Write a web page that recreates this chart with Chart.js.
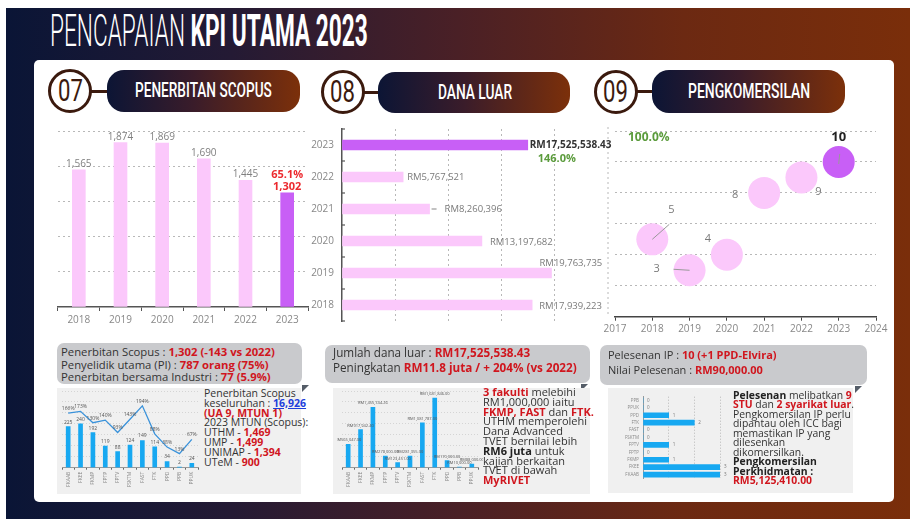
<!DOCTYPE html>
<html>
<head>
<meta charset="utf-8">
<script src="https://cdn.jsdelivr.net/npm/chart.js@4.4.1/dist/chart.umd.min.js"></script>
<style>
  html, body { margin: 0; padding: 0; }
  body { width: 910px; height: 519px; background: #fff; position: relative; overflow: hidden; font-family: "Open Sans", sans-serif; color: #333; }
  .abs { position: absolute; }
  .banner { left: 6px; top: 8px; width: 904px; height: 511px; background: linear-gradient(90deg, #0a1536 0%, #241a34 25%, #4a2026 50%, #6c2912 75%, #7a2e0a 100%); }
  .title { left: 50px; top: 9px; color: #fff; font-family: Roboto, sans-serif; font-size: 44px; line-height: 44px; white-space: nowrap; transform-origin: 0 0; }
  .title .light { font-weight: 300; }
  .title .bold { font-weight: 700; }
  .panel { left: 34px; top: 60px; width: 860px; height: 442px; background: #fff; border-radius: 5px; }
  .circle { border: 3.5px solid #3b1a0e; border-radius: 50%; background: #fff; box-sizing: border-box; width: 44px; height: 44px; }
  .num { font-family: Roboto, sans-serif; font-size: 31px; color: #3b1a0e; white-space: nowrap; transform-origin: 0 0; line-height: 44px; }
  .link { height: 3px; background: #3b1a0e; }
  .pill { border-radius: 17px; background: linear-gradient(90deg, #0c1535 0%, #3a1c2a 45%, #7c300a 100%); }
  .pilltext { font-family: Roboto, sans-serif; font-weight: 500; font-size: 21px; color: #fff; white-space: nowrap; transform-origin: 0 0; }
  .callout { background: #c9cacd; border-radius: 7px; }
  .fold { width: 0; height: 0; border-top: 7px solid #555d68; border-right: 7px solid transparent; }
  .light-box { background: #f0f0f0; }
  .txt { white-space: nowrap; }
  .red { color: #d0161e; font-weight: 700; }
  .b { font-weight: 700; color: #222; }
  .blue { color: #1d3fdc; font-weight: 700; text-decoration: underline; }
  .green { color: #5b9b3c; font-weight: 700; }
  canvas { position: absolute; }
</style>
</head>
<body>
<div class="abs banner"></div>
<div class="abs title" id="title"><span class="light">PENCAPAIAN </span><span class="bold">KPI UTAMA 2023</span></div>
<div class="abs panel"></div>

<!-- section headers -->
<div class="abs link" style="left:90px;top:89.5px;width:20px;"></div>
<div class="abs circle" style="left:48px;top:69px;"></div>
<div class="abs num" data-cx="70" data-w="25" style="top:69px;">07</div>
<div class="abs pill" style="left:107px;top:70px;width:193px;height:42px;"></div>
<div class="abs pilltext" data-cx="203.5" data-w="137" style="top:78px;">PENERBITAN SCOPUS</div>

<div class="abs link" style="left:362px;top:90.5px;width:20px;"></div>
<div class="abs circle" style="left:320.5px;top:70px;"></div>
<div class="abs num" data-cx="342.5" data-w="25" style="top:70px;">08</div>
<div class="abs pill" style="left:378px;top:72px;width:192px;height:41px;"></div>
<div class="abs pilltext" data-cx="475" data-w="74" style="top:79.5px;">DANA LUAR</div>

<div class="abs link" style="left:635px;top:90px;width:20px;"></div>
<div class="abs circle" style="left:593.5px;top:69.5px;"></div>
<div class="abs num" data-cx="615.5" data-w="25" style="top:69.5px;">09</div>
<div class="abs pill" style="left:652px;top:70px;width:193px;height:43px;"></div>
<div class="abs pilltext" data-cx="749" data-w="122" style="top:78.5px;">PENGKOMERSILAN</div>

<!-- main charts -->
<canvas id="scopusChart" width="280" height="225" style="left:40px;top:110px;"></canvas>
<canvas id="ipChart" width="302" height="225" style="left:590px;top:115px;"></canvas>
<canvas id="danaChart" width="320" height="220" style="left:300px;top:115px;"></canvas>
<div class="abs txt green" style="left:628px;top:129px;font-size:12px;line-height:16px;">100.0%</div>

<!-- bottom section 1 -->
<div class="abs callout" style="left:57px;top:343px;width:245px;height:41px;"></div>
<div class="abs fold" style="left:302px;top:385px;"></div>
<div class="abs light-box" style="left:57px;top:388px;width:244px;height:106px;"></div>
<div class="abs txt" style="left:61px;top:346px;font-size:11.3px;line-height:12.5px;">
  Penerbitan Scopus : <span class="red">1,302 (-143 vs 2022)</span><br>
  Penyelidik utama (PI) : <span class="red">787 orang (75%)</span><br>
  Penerbitan bersama Industri : <span class="red">77 (5.9%)</span>
</div>
<canvas id="facScopusChart" width="146" height="108" style="left:58px;top:388px;"></canvas>
<div class="abs txt" style="left:204px;top:389px;font-size:10.5px;line-height:9.8px;">
  Penerbitan Scopus<br>
  keseluruhan : <span class="blue">16,926</span><br>
  <span class="red">(UA 9, MTUN 1)</span><br>
  2023 MTUN (Scopus):<br>
  UTHM - <span class="red">1,469</span><br>
  UMP - <span class="red">1,499</span><br>
  UNIMAP - <span class="red">1,394</span><br>
  UTeM - <span class="red">900</span>
</div>

<!-- bottom section 2 -->
<div class="abs callout" style="left:325px;top:345px;width:265px;height:38px;"></div>
<div class="abs fold" style="left:581px;top:384px;"></div>
<div class="abs light-box" style="left:333px;top:388px;width:257px;height:106px;"></div>
<div class="abs txt" style="left:333px;top:345px;font-size:11.7px;line-height:15px;">
  Jumlah dana luar : <span class="red">RM17,525,538.43</span><br>
  Peningkatan <span class="red">RM11.8 juta / + 204% (vs 2022)</span>
</div>
<canvas id="facDanaChart" width="146" height="108" style="left:337px;top:388px;"></canvas>
<div class="abs txt" style="left:483px;top:387px;font-size:11px;line-height:9.8px;">
  <span class="red">3 fakulti</span> melebihi<br>
  RM1,000,000 iaitu<br>
  <span class="red">FKMP, FAST</span> dan <span class="red">FTK.</span><br>
  UTHM memperolehi<br>
  Dana Advanced<br>
  TVET bernilai lebih<br>
  <span class="b">RM6 juta</span> untuk<br>
  kajian berkaitan<br>
  TVET di bawah<br>
  <span class="red">MyRIVET</span>
</div>

<!-- bottom section 3 -->
<div class="abs callout" style="left:600px;top:345px;width:267px;height:40px;"></div>
<div class="abs fold" style="left:855px;top:386px;"></div>
<div class="abs light-box" style="left:608px;top:388px;width:245px;height:105px;"></div>
<div class="abs txt" style="left:608px;top:347px;font-size:11px;line-height:15px;">
  Pelesenan IP : <span class="red">10 (+1 PPD-Elvira)</span><br>
  Nilai Pelesenan : <span class="red">RM90,000.00</span>
</div>
<canvas id="facIpChart" width="125" height="95" style="left:608px;top:390px;"></canvas>
<div class="abs txt" style="left:733px;top:390.5px;font-size:10.4px;line-height:9.5px;">
  <span class="b">Pelesenan</span> melibatkan <span class="red">9</span><br>
  <span class="red">STU</span> dan <span class="red">2 syarikat luar</span>.<br>
  Pengkomersilan IP perlu<br>
  dipantau oleh ICC bagi<br>
  memastikan IP yang<br>
  dilesenkan<br>
  dikomersilkan.<br>
  <span class="b">Pengkomersilan</span><br>
  <span class="b">Perkhidmatan :</span><br>
  <span class="red">RM5,125,410.00</span>
</div>

<script>
// ---- data ----
const scopusYears = ['2018', '2019', '2020', '2021', '2022', '2023'];
const scopusValues = [1565, 1874, 1869, 1690, 1445, 1302];
const scopusTargetPct = '65.1%';

const danaYears = ['2023', '2022', '2021', '2020', '2019', '2018'];
const danaValues = [17525538.43, 5767521, 8260396, 13197682, 19763735, 17939223];
const danaTargetPct = '146.0%';

const ipYears = [2018, 2019, 2020, 2021, 2022, 2023];
const ipValues = [5, 3, 4, 8, 9, 10];
const ipTicks = [2017, 2018, 2019, 2020, 2021, 2022, 2023, 2024];

const faculties = ['FKAAB', 'FKEE', 'FKMP', 'FPTP', 'FPTV', 'FSKTM', 'FAST', 'FTK', 'PPD', 'PPB', 'PPUK'];
const scopusByFaculty = [225, 240, 192, 119, 88, 124, 149, 114, 34, 2, 24];
const scopusPctByFaculty = [166, 173, 130, 140, 93, 143, 194, 88, 38, 13, 67];
const danaByFaculty = [565047, 917942.4, 1455744.26, 278000, 123451, 281355, 1081787, 1681846, 170000, 10000, 88000];

const ipFaculties = ['PPB', 'PPUK', 'PPD', 'FTK', 'FAST', 'FSKTM', 'FPTV', 'FPTP', 'FKMP', 'FKEE', 'FKAAB'];
const ipByFaculty = [0, 0, 1, 2, 0, 0, 1, 0, 1, 3, 3];

const PINK = '#fbc8fb';
const PURPLE = '#c85ff6';
const BLUE = '#17a8f1';
const FONT = '"Open Sans", sans-serif';

// ---- squeeze condensed headings to their widths ----
const title = document.getElementById('title');
title.style.transform = `scaleX(${318 / title.scrollWidth})`;
document.querySelectorAll('[data-cx]').forEach(el => {
    const w = +el.dataset.w;
    const natural = el.scrollWidth;
    el.style.left = (+el.dataset.cx - w / 2) + 'px';
    el.style.transform = `scaleX(${w / natural})`;
});

const base = {
    responsive: false,
    animation: false,
    plugins: { legend: { display: false }, tooltip: { enabled: false } }
};
const hideZero = ctx => ctx.tick.value === 0 ? 'transparent' : '#b8b8b8';

// 07 Penerbitan Scopus
new Chart(document.getElementById('scopusChart'), {
    type: 'bar',
    data: {
        labels: scopusYears,
        datasets: [{
            data: scopusValues,
            backgroundColor: scopusValues.map((v, i) => i === scopusValues.length - 1 ? PURPLE : PINK),
            barThickness: 13
        }]
    },
    options: {
        ...base,
        layout: { padding: { left: 18, right: 12, top: 21.6, bottom: 0 } },
        scales: {
            x: {
                grid: { drawOnChartArea: false, offset: true, tickLength: 4, color: '#555' },
                border: { color: '#555', width: 1.5 },
                ticks: { color: '#888', font: { size: 10, family: FONT }, padding: 3 },
                afterFit: s => { s.height = 28; }
            },
            y: {
                min: 0, max: 2000,
                ticks: { display: false, stepSize: 400 },
                grid: { color: hideZero, drawTicks: false },
                border: { display: false, dash: [2, 3] },
                afterFit: s => { s.width = 0; }
            }
        }
    },
    plugins: [{
        id: 'scopusLabels',
        afterDatasetsDraw(chart) {
            const { ctx } = chart;
            ctx.save();
            ctx.textAlign = 'center';
            ctx.textBaseline = 'alphabetic';
            chart.getDatasetMeta(0).data.forEach((bar, i) => {
                const last = i === scopusValues.length - 1;
                ctx.font = (last ? 'bold 11px ' : '10px ') + FONT;
                ctx.fillStyle = last ? '#ec2a2f' : '#808080';
                ctx.fillText(scopusValues[i].toLocaleString('en-US'), bar.x, bar.y - 3);
                if (last) ctx.fillText(scopusTargetPct, bar.x, bar.y - 15);
            });
            ctx.restore();
        }
    }]
});

// 08 Dana Luar
new Chart(document.getElementById('danaChart'), {
    type: 'bar',
    data: {
        labels: danaYears,
        datasets: [{
            data: danaValues,
            backgroundColor: danaValues.map((v, i) => i === 0 ? PURPLE : PINK),
            barThickness: 10
        }]
    },
    options: {
        ...base,
        indexAxis: 'y',
        layout: { padding: { left: 0, right: 66, top: 9, bottom: 10 } },
        scales: {
            x: {
                min: 0, max: 20000000,
                ticks: { display: false, stepSize: 5000000 },
                grid: { color: hideZero, drawTicks: false },
                border: { display: false, dash: [2, 3] },
                afterFit: s => { s.height = 0; }
            },
            y: {
                ticks: { color: '#888', font: { size: 10, family: FONT }, padding: 8 },
                grid: { display: false, drawTicks: false },
                border: { color: '#555', width: 1.5 },
                afterFit: s => { s.width = 42; }
            }
        }
    },
    plugins: [{
        id: 'danaLabels',
        afterDatasetsDraw(chart) {
            const { ctx, chartArea } = chart;
            const bars = chart.getDatasetMeta(0).data;
            // bracket ticks on the year axis
            ctx.save();
            ctx.strokeStyle = '#555';
            ctx.lineWidth = 1.2;
            const edges = [chartArea.top];
            for (let i = 1; i < bars.length; i++) edges.push((bars[i - 1].y + bars[i].y) / 2);
            edges.push(chartArea.bottom);
            edges.forEach(y => {
                ctx.beginPath();
                ctx.moveTo(chartArea.left, y);
                ctx.lineTo(chartArea.left + 3, y);
                ctx.stroke();
            });
            // value labels
            const offsets = [[2, 0], [4, 0], [15, 0], [8, 1], [-12, -10], [7, 1]];
            ctx.textBaseline = 'middle';
            ctx.textAlign = 'left';
            bars.forEach((bar, i) => {
                const [dx, dy] = offsets[i];
                const v = danaValues[i];
                if (i === 0) {
                    ctx.font = 'bold 10px ' + FONT;
                    ctx.fillStyle = '#333';
                    ctx.fillText('RM' + v.toLocaleString('en-US', { minimumFractionDigits: 2 }), bar.x + dx, bar.y + dy);
                    ctx.font = 'bold 11px ' + FONT;
                    ctx.fillStyle = '#5b9b3c';
                    ctx.textAlign = 'center';
                    ctx.fillText(danaTargetPct, bar.x + 29, bar.y + 14);
                    ctx.textAlign = 'left';
                    return;
                }
                ctx.font = '9.5px ' + FONT;
                ctx.fillStyle = '#7a7a7a';
                ctx.fillText('RM' + v.toLocaleString('en-US'), bar.x + dx, bar.y + dy);
                if (i === 2) {
                    ctx.strokeStyle = '#999';
                    ctx.beginPath();
                    ctx.moveTo(bar.x + 2, bar.y);
                    ctx.lineTo(bar.x + 7, bar.y);
                    ctx.stroke();
                }
            });
            ctx.restore();
        }
    }]
});

// 09 Pengkomersilan
new Chart(document.getElementById('ipChart'), {
    type: 'bubble',
    data: {
        datasets: [{
            data: ipYears.map((x, i) => ({ x, y: ipValues[i] })),
            backgroundColor: ipValues.map((v, i) => i === ipValues.length - 1 ? PURPLE : PINK),
            borderWidth: 0,
            radius: 16
        }]
    },
    options: {
        ...base,
        layout: { padding: { left: 25, right: 7, top: 14.5, bottom: 0 } },
        scales: {
            x: {
                type: 'linear',
                min: ipTicks[0], max: ipTicks[ipTicks.length - 1],
                afterBuildTicks: s => { s.ticks = ipTicks.map(value => ({ value })); },
                ticks: { color: '#888', font: { size: 10, family: FONT }, padding: 2, callback: v => String(v) },
                grid: { drawOnChartArea: false, tickLength: 4, color: '#444' },
                border: { color: '#444', width: 1.5 },
                afterFit: s => { s.height = 23.3; }
            },
            y: {
                min: 0, max: 12,
                ticks: { display: false, stepSize: 2 },
                grid: { color: hideZero, drawTicks: false },
                border: { display: false, dash: [2, 3] },
                afterFit: s => { s.width = 0; }
            }
        }
    },
    plugins: [{
        id: 'ipLabels',
        beforeDatasetsDraw(chart) {
            const { ctx, chartArea } = chart;
            ctx.save();
            ctx.strokeStyle = '#b8b8b8';
            ctx.setLineDash([2, 3]);
            ctx.beginPath();
            ctx.moveTo(chartArea.left - 7, chartArea.top - 4);
            ctx.lineTo(chartArea.left - 7, chartArea.bottom);
            ctx.stroke();
            ctx.restore();
        },
        afterDatasetsDraw(chart) {
            const { ctx } = chart;
            const offsets = [[19, -29], [-33, -1], [-19, -16], [-29, 2], [17, 14], [0, -25]];
            const leaders = [[0, 0, 17, -15], [-16, -1, 0, 0], null, null, null, [0, 2, 1, -8]];
            ctx.save();
            ctx.textAlign = 'center';
            ctx.textBaseline = 'middle';
            chart.getDatasetMeta(0).data.forEach((pt, i) => {
                const [dx, dy] = offsets[i];
                const last = i === ipValues.length - 1;
                if (leaders[i]) {
                    const [x1, y1, x2, y2] = leaders[i];
                    ctx.strokeStyle = '#999';
                    ctx.lineWidth = 1;
                    ctx.beginPath();
                    ctx.moveTo(pt.x + x1, pt.y + y1);
                    ctx.lineTo(pt.x + x2, pt.y + y2);
                    ctx.stroke();
                }
                ctx.font = last ? 'bold 13px ' + FONT : '11px ' + FONT;
                ctx.fillStyle = last ? '#222' : '#7a7a7a';
                ctx.fillText(String(ipValues[i]), pt.x + dx, pt.y + dy);
            });
            ctx.restore();
        }
    }]
});

// small faculty charts
const smallX = {
    grid: { drawOnChartArea: false, offset: true, tickLength: 2, color: '#666' },
    border: { color: '#999', width: 1 },
    ticks: { color: '#888', font: { size: 5, family: FONT }, minRotation: 90, maxRotation: 90, autoSkip: false, padding: 2 },
    afterFit: s => { s.height = 28.3; }
};

new Chart(document.getElementById('facScopusChart'), {
    type: 'bar',
    data: {
        labels: faculties,
        datasets: [
            { type: 'line', data: scopusPctByFaculty, yAxisID: 'pct', borderColor: '#3a92da', borderWidth: 1.3, pointRadius: 0, tension: 0 },
            { type: 'bar', data: scopusByFaculty, yAxisID: 'y', backgroundColor: BLUE, barThickness: 4 }
        ]
    },
    options: {
        ...base,
        layout: { padding: { left: 4, right: 6, top: 3, bottom: 0 } },
        scales: {
            x: smallX,
            y: {
                min: 0, max: 420,
                ticks: { display: false, stepSize: 60 },
                grid: { color: '#d4d4d4', drawTicks: false },
                border: { display: false, dash: [1, 2] },
                afterFit: s => { s.width = 0; }
            },
            pct: {
                position: 'right', min: -40, max: 250,
                display: true,
                ticks: { display: false },
                grid: { display: false, drawTicks: false },
                border: { display: false },
                afterFit: s => { s.width = 0; }
            }
        }
    },
    plugins: [{
        id: 'facScopusLabels',
        afterDatasetsDraw(chart) {
            const { ctx } = chart;
            ctx.save();
            ctx.textAlign = 'center';
            ctx.textBaseline = 'bottom';
            ctx.font = '5px ' + FONT;
            ctx.fillStyle = '#555';
            chart.getDatasetMeta(1).data.forEach((bar, i) => ctx.fillText(String(scopusByFaculty[i]), bar.x, bar.y - 2));
            chart.getDatasetMeta(0).data.forEach((pt, i) => ctx.fillText(scopusPctByFaculty[i] + '%', pt.x, pt.y - 2));
            ctx.restore();
        }
    }]
});

new Chart(document.getElementById('facDanaChart'), {
    type: 'bar',
    data: {
        labels: faculties,
        datasets: [{ data: danaByFaculty, backgroundColor: BLUE, barThickness: 4 }]
    },
    options: {
        ...base,
        layout: { padding: { left: 5, right: 5, top: 3, bottom: 0 } },
        scales: {
            x: smallX,
            y: {
                min: 0, max: 1850000,
                ticks: { display: false, stepSize: 250000 },
                grid: { color: '#d4d4d4', drawTicks: false },
                border: { display: false, dash: [1, 2] },
                afterFit: s => { s.width = 0; }
            }
        }
    },
    plugins: [{
        id: 'facDanaLabels',
        afterDatasetsDraw(chart) {
            const { ctx } = chart;
            ctx.save();
            ctx.textAlign = 'center';
            ctx.textBaseline = 'bottom';
            ctx.font = '4px ' + FONT;
            ctx.fillStyle = '#555';
            chart.getDatasetMeta(0).data.forEach((bar, i) => {
                ctx.fillText('RM' + danaByFaculty[i].toLocaleString('en-US', { minimumFractionDigits: 2, maximumFractionDigits: 2 }), bar.x, bar.y - 2);
            });
            ctx.restore();
        }
    }]
});

new Chart(document.getElementById('facIpChart'), {
    type: 'bar',
    data: {
        labels: ipFaculties,
        datasets: [{ data: ipByFaculty, backgroundColor: BLUE, barThickness: 5 }]
    },
    options: {
        ...base,
        indexAxis: 'y',
        layout: { padding: { left: 0, right: 13, top: 1, bottom: 3 } },
        scales: {
            x: {
                min: 0, max: 3,
                ticks: { display: false, stepSize: 1 },
                grid: { color: hideZero, drawTicks: false },
                border: { display: false, dash: [1, 2] },
                afterFit: s => { s.height = 0; }
            },
            y: {
                ticks: { color: '#888', font: { size: 4.5, family: FONT }, padding: 4, autoSkip: false },
                grid: { display: false, drawTicks: false },
                border: { color: '#999', width: 1 },
                afterFit: s => { s.width = 35; }
            }
        }
    },
    plugins: [{
        id: 'facIpLabels',
        afterDatasetsDraw(chart) {
            const { ctx } = chart;
            ctx.save();
            ctx.textAlign = 'left';
            ctx.textBaseline = 'middle';
            ctx.font = '4.5px ' + FONT;
            ctx.fillStyle = '#777';
            chart.getDatasetMeta(0).data.forEach((bar, i) => ctx.fillText(String(ipByFaculty[i]), bar.x + 4, bar.y));
            ctx.restore();
        }
    }]
});
</script>
</body>
</html>
